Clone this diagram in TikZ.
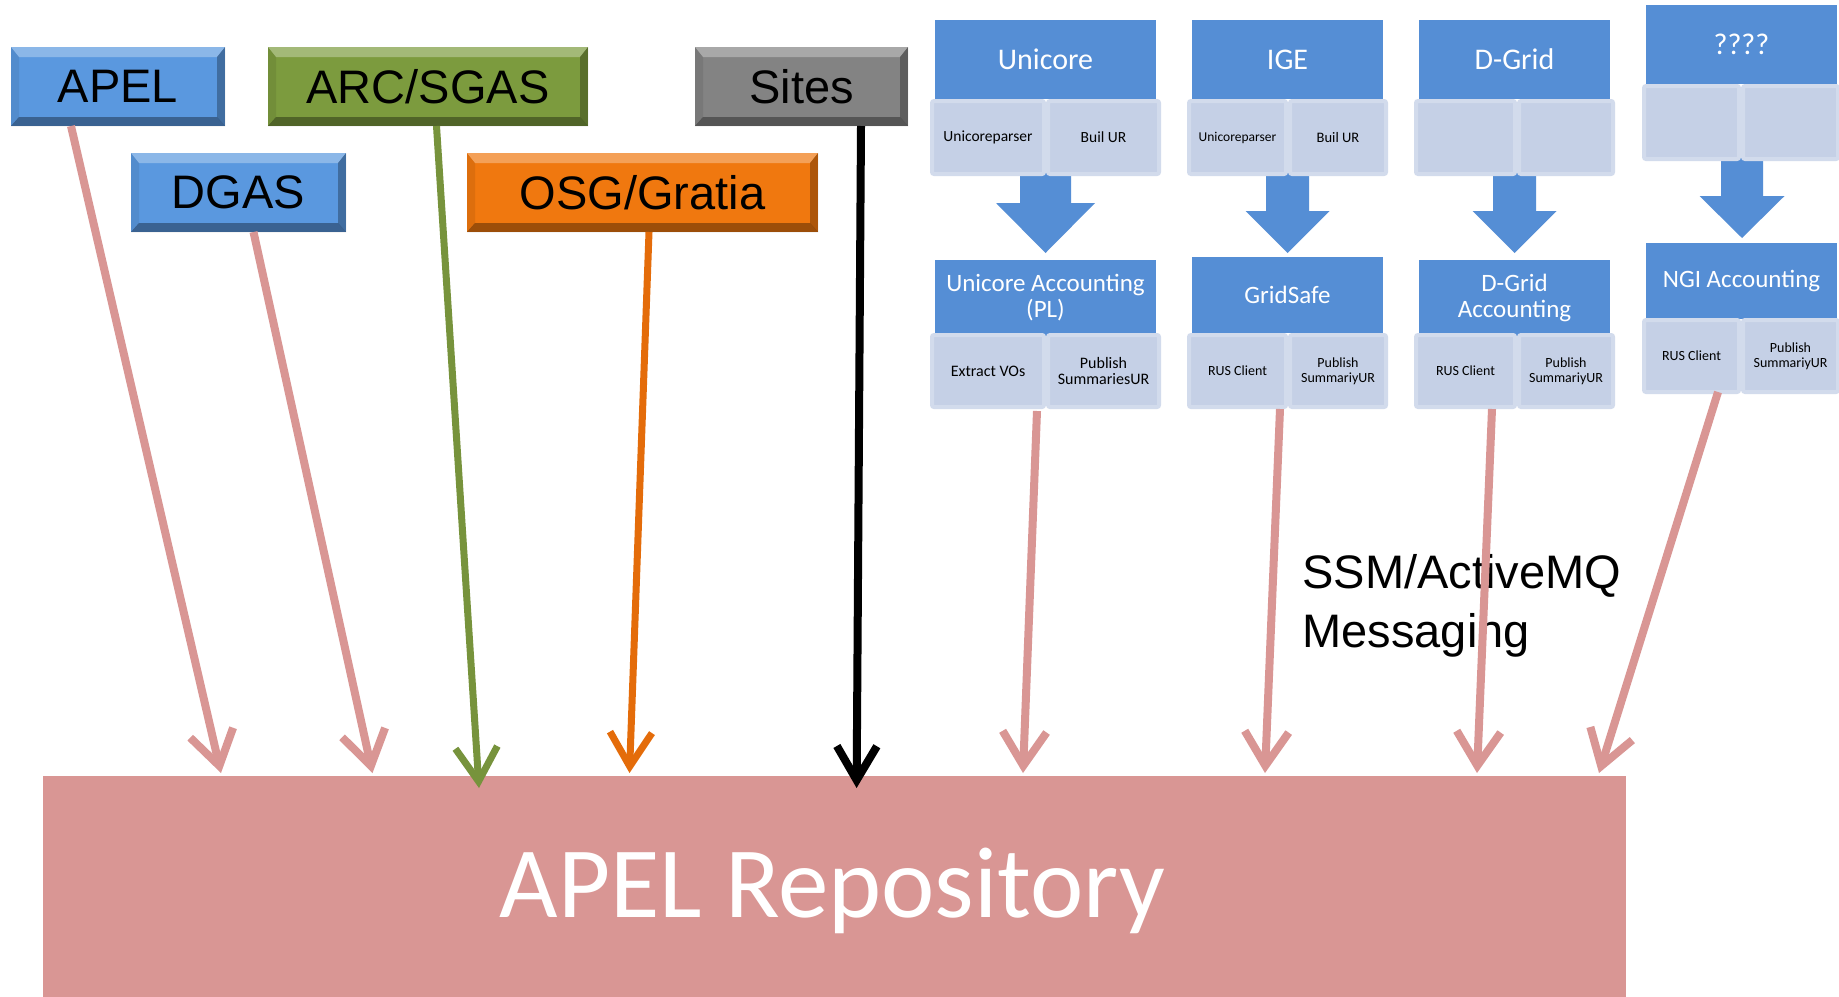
\documentclass[tikz,border=0pt]{standalone}
\usepackage{fontspec}
\setmainfont{Carlito}
\newfontfamily\lsans{Liberation Sans}
\usetikzlibrary{arrows.meta,calc}
\definecolor{pinkc}{HTML}{D99694}
\definecolor{greenarr}{HTML}{77933C}
\definecolor{orangearr}{HTML}{E46C0A}
\definecolor{bluebox}{HTML}{5A98DF}
\definecolor{greenbox}{HTML}{7C9B3E}
\definecolor{graybox}{HTML}{838383}
\definecolor{orangebox}{HTML}{F0780F}
\definecolor{headc}{HTML}{558ED5}
\definecolor{cellc}{HTML}{C5D0E6}
\definecolor{cellb}{HTML}{D2DBEC}
\tikzset{
  bev/.style={fill=#1, inner sep=0pt, outer sep=0pt, minimum height=79pt, text=black,
    font=\lsans\fontsize{47}{50}\selectfont,
    path picture={
      \path (path picture bounding box.north west) coordinate (pnw)
            (path picture bounding box.north east) coordinate (pne)
            (path picture bounding box.south west) coordinate (psw)
            (path picture bounding box.south east) coordinate (pse);
      \fill[white,opacity=.30] (pnw) -- (pne) -- ([shift={(-8pt,-10pt)}]pne) -- ([shift={(8pt,-10pt)}]pnw) -- cycle;
      \fill[black,opacity=.35] (psw) -- (pse) -- ([shift={(-8pt,9pt)}]pse) -- ([shift={(8pt,9pt)}]psw) -- cycle;
      \fill[black,opacity=.08] (pnw) -- ([shift={(8pt,-10pt)}]pnw) -- ([shift={(8pt,9pt)}]psw) -- (psw) -- cycle;
      \fill[black,opacity=.28] (pne) -- ([shift={(-8pt,-10pt)}]pne) -- ([shift={(-8pt,9pt)}]pse) -- (pse) -- cycle;
    }},
  head/.style={fill=headc, inner sep=0pt, outer sep=0pt, text=white, align=center},
  cell/.style={fill=cellc, draw=cellb, line width=4pt, rounded corners=2pt, inner sep=0pt, outer sep=0pt, align=center, text=black},
  pinkarr/.style={draw=pinkc, line width=8pt, -{Straight Barb[length=34pt,width=44pt]}},
  greenline/.style={draw=greenarr, line width=7pt, -{Straight Barb[length=34pt,width=42pt]}},
  orangeline/.style={draw=orangearr, line width=7pt, -{Straight Barb[length=34pt,width=42pt]}},
  blackline/.style={draw=black, line width=8pt, -{Straight Barb[length=34pt,width=40pt]}},
  blk/.style={fill=headc}
}
\newcommand\blkarrow[6]{% cx, shafthalf, headhalf, ytop, yhead, ytip
  \fill[blk] ({#1-#2},#4) -- ({#1+#2},#4) -- ({#1+#2},#5) -- ({#1+#3},#5) -- (#1,#6) -- ({#1-#3},#5) -- ({#1-#2},#5) -- cycle;}
\begin{document}
\begin{tikzpicture}[x=1pt,y=-1pt]
\useasboundingbox (0,0) rectangle (1839,996);
\fill[white] (0,0) rectangle (1839,996);

% left source boxes
\node[bev=bluebox, minimum width=214pt] (apel) at (118,86.5) {APEL};
\node[bev=greenbox, minimum width=320pt] (arc) at (428,86.5) {ARC/SGAS};
\node[bev=graybox, minimum width=213pt] (sites) at (801.5,86.5) {Sites};
\node[bev=bluebox, minimum width=215pt] (dgas) at (238.5,192.5) {DGAS};
\node[bev=orangebox, minimum width=351pt] (osg) at (642.5,192.5) {OSG/Gratia};

% block arrows (right side)
\blkarrow{1045.5}{25.5}{49.5}{170}{203}{253}
\blkarrow{1287.5}{21.5}{42}{170}{211}{253}
\blkarrow{1514.5}{21.5}{42}{170}{211}{253}
\blkarrow{1742}{21}{42.5}{155}{196}{238}

% Unicore column
\node[head, minimum width=221pt, minimum height=79pt, font=\fontsize{30}{34}\selectfont] (uh) at (1045.5,59.5) {Unicore};
\node[cell, minimum width=112pt, minimum height=73pt, font=\fontsize{15.5}{17}\selectfont] (uc1) at (988,137.5) {Unicoreparser};
\node[cell, minimum width=111pt, minimum height=73pt, font=\fontsize{15.5}{17}\selectfont] (uc2) at (1103.5,137.5) {Buil UR};
\node[head, minimum width=221pt, minimum height=76pt, font=\fontsize{25}{26}\selectfont] (ua) at (1045.5,298) {Unicore Accounting\\(PL)};
\node[cell, minimum width=112pt, minimum height=72pt, font=\fontsize{16}{16.5}\selectfont] (ua1) at (988,371) {Extract VOs};
\node[cell, minimum width=111pt, minimum height=72pt, font=\fontsize{16}{16.5}\selectfont] (ua2) at (1103.5,371) {Publish\\SummariesUR};

% IGE column
\node[head, minimum width=191pt, minimum height=79pt, font=\fontsize{30}{34}\selectfont] (ih) at (1287.5,59.5) {IGE};
\node[cell, minimum width=97pt, minimum height=73pt, font=\fontsize{13.5}{15}\selectfont] (ic1) at (1237.5,137.5) {Unicoreparser};
\node[cell, minimum width=96pt, minimum height=73pt, font=\fontsize{14.5}{16}\selectfont] (ic2) at (1338,137.5) {Buil UR};
\node[head, minimum width=191pt, minimum height=76pt, font=\fontsize{25}{26}\selectfont] (ia) at (1287.5,295) {GridSafe};
\node[cell, minimum width=97pt, minimum height=72pt, font=\fontsize{14}{15}\selectfont] (ia1) at (1237.5,371) {RUS Client};
\node[cell, minimum width=96pt, minimum height=72pt, font=\fontsize{14}{15}\selectfont] (ia2) at (1338,371) {Publish\\SummariyUR};

% D-Grid column
\node[head, minimum width=191pt, minimum height=79pt, font=\fontsize{30}{34}\selectfont] (dh) at (1514.5,59.5) {D-Grid};
\node[cell, minimum width=99pt, minimum height=73pt] (dc1) at (1465.5,137.5) {};
\node[cell, minimum width=94pt, minimum height=73pt] (dc2) at (1566,137.5) {};
\node[head, minimum width=191pt, minimum height=76pt, font=\fontsize{25}{26}\selectfont] (da) at (1514.5,298) {D-Grid\\Accounting};
\node[cell, minimum width=99pt, minimum height=72pt, font=\fontsize{14}{15}\selectfont] (da1) at (1465.5,371) {RUS Client};
\node[cell, minimum width=94pt, minimum height=72pt, font=\fontsize{14}{15}\selectfont] (da2) at (1566,371) {Publish\\SummariyUR};

% ???? column
\node[head, minimum width=191pt, minimum height=79pt, font=\fontsize{30}{34}\selectfont] (qh) at (1741.5,44.5) {????};
\node[cell, minimum width=95pt, minimum height=73pt] (qc1) at (1691.5,122.5) {};
\node[cell, minimum width=95pt, minimum height=73pt] (qc2) at (1790.5,122.5) {};
\node[head, minimum width=191pt, minimum height=76pt, font=\fontsize{25}{26}\selectfont] (qa) at (1741.5,281) {NGI Accounting};
\node[cell, minimum width=95pt, minimum height=72pt, font=\fontsize{14}{15}\selectfont] (qa1) at (1691.5,356) {RUS Client};
\node[cell, minimum width=95pt, minimum height=72pt, font=\fontsize{14}{15}\selectfont] (qa2) at (1790.5,356) {Publish\\SummariyUR};

% repository
\node[fill=pinkc, inner sep=0pt, outer sep=0pt, minimum width=1583pt, minimum height=222pt] (repo) at (834.5,887) {};
\node[anchor=base, text=white, font=\fontsize{101}{110}\selectfont] (repotext) at (832.5,917) {APEL Repository};

% messaging label
\node[anchor=base west, font=\lsans\fontsize{47}{56}\selectfont] (ssm1) at (1299,588) {SSM/ActiveMQ};
\node[anchor=base west, font=\lsans\fontsize{47}{56}\selectfont] (ssm2) at (1299,647) {Messaging};

% arrow end points
\coordinate (t1) at (221,773);
\coordinate (t2) at (372.5,773);
\coordinate (t3) at (479,788);
\coordinate (t4) at (629.5,773);
\coordinate (t5) at (856.6,788);
\coordinate (t6) at (1023,773);
\coordinate (t7) at (1265,773);
\coordinate (t8) at (1477,773);
\coordinate (t9) at (1599,773);

% connectors
\draw[pinkarr] ([xshift=-47pt]apel.south) -- (t1);
\draw[pinkarr] ([xshift=15pt]dgas.south) -- (t2);
\draw[greenline] ([xshift=8.5pt]arc.south) -- (t3);
\draw[orangeline] ([xshift=6.5pt]osg.south) -- (t4);
\draw[blackline] ([xshift=59.5pt]sites.south) -- (t5);
\draw[pinkarr] ([xshift=-8.5pt,yshift=-4pt]ua.south |- ua1.south) -- (t6);
\draw[pinkarr] ([xshift=-7.5pt,yshift=-2pt]ia.south |- ia1.south) -- (t7);
\draw[pinkarr] ([xshift=-22.5pt,yshift=-2pt]da.south |- da1.south) -- (t8);
\draw[pinkarr] ([xshift=-23.5pt]qa.south |- qa1.south) -- (t9);
\end{tikzpicture}
\end{document}
